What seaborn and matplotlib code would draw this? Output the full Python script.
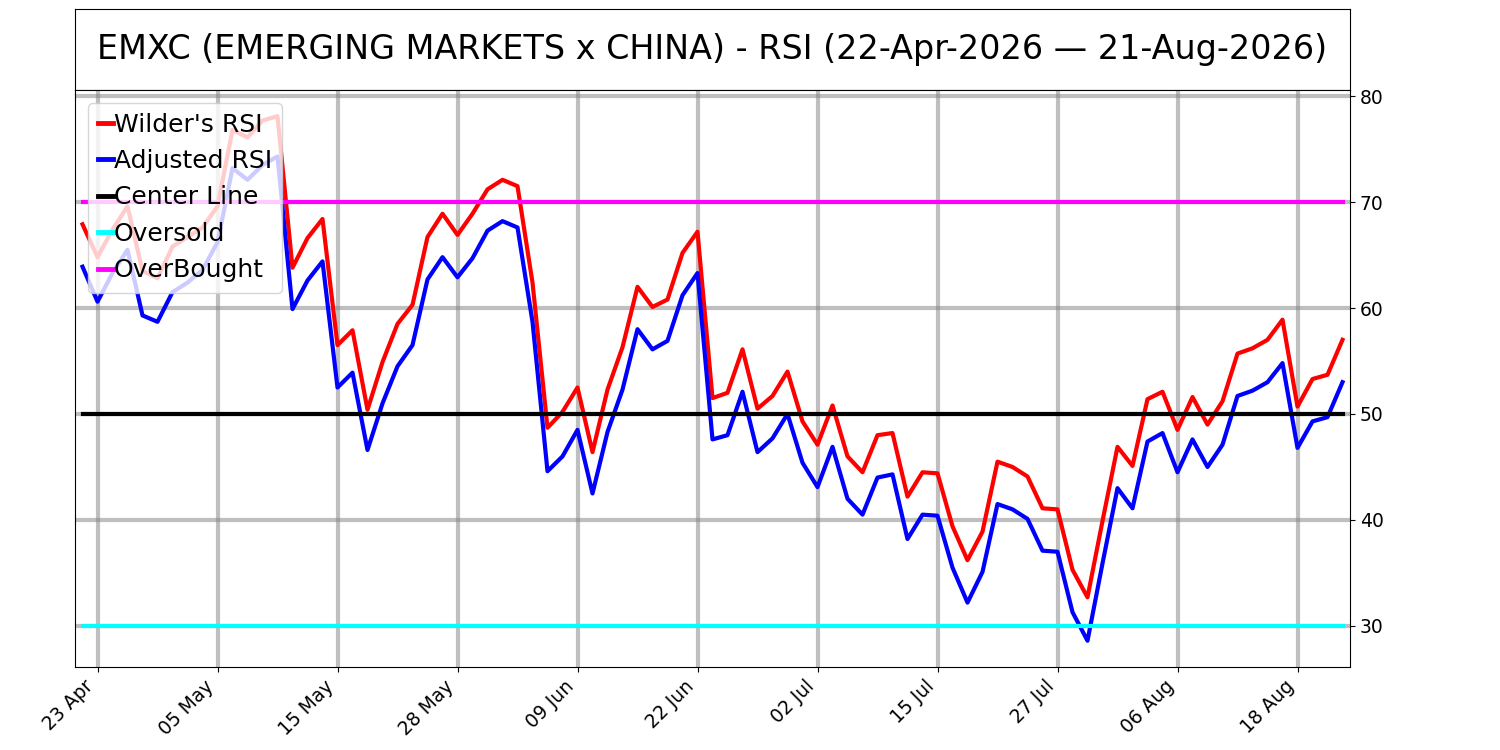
import seaborn as sns
import matplotlib
matplotlib.use("Agg")
import matplotlib.pyplot as plt
import pandas as pd
import numpy as np

# RSI values, one per trading day, 22-Apr-2026 .. 21-Aug-2026
wilder_rsi = [
    67.9, 64.8, 67.4, 69.6, 63.5, 62.8, 65.8, 66.7, 67.6, 69.6,
    76.8, 76.1, 77.7, 78.1, 63.8, 66.6, 68.4, 56.5, 57.9, 50.4,
    54.9, 58.5, 60.3, 66.7, 68.9, 66.9, 68.9, 71.2, 72.1, 71.5,
    62.4, 48.7, 50.2, 52.5, 46.4, 52.3, 56.3, 62.0, 60.1, 60.8,
    65.2, 67.2, 51.5, 52.0, 56.1, 50.5, 51.7, 54.0, 49.3, 47.1,
    50.8, 46.0, 44.5, 48.0, 48.2, 42.2, 44.5, 44.4, 39.4, 36.2,
    38.9, 45.5, 45.0, 44.1, 41.1, 41.0, 35.3, 32.7, 39.9, 46.9,
    45.1, 51.4, 52.1, 48.5, 51.6, 49.0, 51.2, 55.7, 56.2, 57.0,
    58.9, 50.7, 53.3, 53.7, 57.0,
]
adjusted_rsi = [
    63.9, 60.6, 63.3, 65.5, 59.3, 58.7, 61.5, 62.4, 63.6, 66.2,
    73.2, 72.1, 73.5, 74.3, 59.9, 62.6, 64.4, 52.5, 53.9, 46.6,
    51.0, 54.5, 56.5, 62.7, 64.8, 62.9, 64.7, 67.3, 68.2, 67.6,
    58.7, 44.6, 46.0, 48.5, 42.5, 48.3, 52.3, 58.0, 56.1, 56.9,
    61.2, 63.3, 47.6, 48.0, 52.1, 46.4, 47.7, 50.0, 45.4, 43.1,
    46.9, 42.0, 40.5, 44.0, 44.3, 38.2, 40.5, 40.4, 35.5, 32.2,
    35.1, 41.5, 41.0, 40.1, 37.1, 37.0, 31.3, 28.6, 35.9, 43.0,
    41.1, 47.4, 48.2, 44.5, 47.6, 45.0, 47.1, 51.7, 52.2, 53.0,
    54.8, 46.8, 49.3, 49.7, 53.0,
]
center_line = 50
oversold = 30
overbought = 70

tick_labels = ["23 Apr", "05 May", "15 May", "28 May", "09 Jun", "22 Jun",
               "02 Jul", "15 Jul", "27 Jul", "06 Aug", "18 Aug"]

series_names = ["Wilder's RSI", "Adjusted RSI", "Center Line", "Oversold", "OverBought"]
colors = ["red", "blue", "black", "cyan", "magenta"]

n = len(wilder_rsi)
day = np.arange(n)
df = pd.concat([
    pd.DataFrame({"day": day, "rsi": wilder_rsi, "series": series_names[0]}),
    pd.DataFrame({"day": day, "rsi": adjusted_rsi, "series": series_names[1]}),
    pd.DataFrame({"day": day, "rsi": center_line, "series": series_names[2]}),
    pd.DataFrame({"day": day, "rsi": oversold, "series": series_names[3]}),
    pd.DataFrame({"day": day, "rsi": overbought, "series": series_names[4]}),
], ignore_index=True)

fig = plt.figure(figsize=(15, 7.5), dpi=100)
title_ax = fig.add_axes([0.05, 0.88, 0.85, 0.108])
ax = fig.add_axes([0.05, 0.1107, 0.85, 0.7693])

title_ax.set_xticks([])
title_ax.set_yticks([])
title_ax.text(0.5, 0.5, "EMXC (EMERGING MARKETS x CHINA) - RSI (22-Apr-2026 \u2014 21-Aug-2026)",
              ha="center", va="center", fontsize=24, transform=title_ax.transAxes)

sns.lineplot(
    data=df, x="day", y="rsi", hue="series",
    hue_order=series_names, palette=dict(zip(series_names, colors)),
    linewidth=3, estimator=None, sort=False, ax=ax,
)

ax.set_xlim(-0.5, n - 0.5)
ax.set_xticks(range(1, n, 8))
ax.set_xticklabels(tick_labels, rotation=45, ha="right", fontsize=13.5)
ax.yaxis.tick_right()
ax.tick_params(axis="y", labelsize=13.5)
ax.set(xlabel=None, ylabel=None)
ax.grid(True, color="gray", alpha=0.5, linewidth=3)

handles, labels = ax.get_legend_handles_labels()
leg = ax.legend(handles, labels, loc="upper left", fontsize=18,
                handlelength=0.6, handletextpad=0.05, labelspacing=0.5)
for line in leg.get_lines():
    line.set_linewidth(3.5)

fig.savefig("out.png", dpi=100)
